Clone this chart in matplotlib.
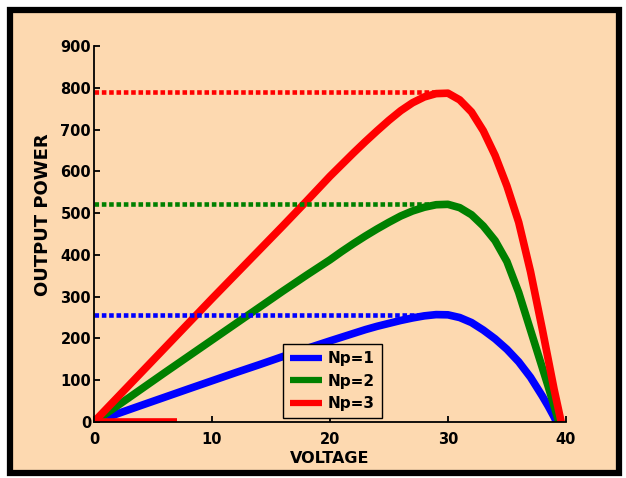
import matplotlib
matplotlib.use("Agg")
import matplotlib.pyplot as plt
from matplotlib.patches import Rectangle

# voltage points (V) shared by the three curves, open-circuit voltage added per curve
voltage = [0, 2, 4, 6, 8, 10, 12, 14, 16, 18, 20, 21, 22, 23, 24, 25, 26, 27,
           28, 29, 30, 31, 32, 33, 34, 35, 36, 37, 38, 38.5, 39]
voc = [39.2, 39.4, 39.6]

p_np1 = [0, 19.8, 39.6, 59.3, 79, 98.5, 118, 137, 156.5, 175.5, 194, 203, 212,
         221, 229, 236, 243, 249, 254, 257, 256.5, 250, 238, 220, 199, 174,
         144, 107, 62, 38, 12]
p_np2 = [0, 39, 78.5, 118, 157, 196, 235, 274, 313, 351, 388, 408, 427,
         445, 462, 478, 493, 505, 514, 520, 521, 513, 496, 469, 434, 384,
         310, 220, 130, 85, 38]
p_np3 = [0, 59, 118, 177, 236, 295, 353, 411, 469, 528, 588, 616, 644,
         671, 697, 722, 745, 764, 778, 786, 787, 771, 742, 697, 638, 565,
         478, 360, 222, 150, 78]

p_max = [257, 522, 789]
v_mp = 29.2
labels = ["Np=1", "Np=2", "Np=3"]
colors = ["#0000ff", "#008000", "#ff0000"]

bg = "#fdd9b0"

fig = plt.figure(figsize=(6.26, 4.78), dpi=100, facecolor="white")
fig.patches.append(Rectangle((10 / 626, 5 / 478), 609 / 626, 463 / 478,
                             transform=fig.transFigure, facecolor=bg,
                             edgecolor="black", linewidth=4.5, zorder=-1))

ax = fig.add_axes([0.150, 0.1172, 0.754, 0.7866])
ax.set_facecolor(bg)

for p, vo, c, lab in zip([p_np1, p_np2, p_np3], voc, colors, labels):
    ax.plot(voltage + [vo], p + [0], color=c, linewidth=5.5, label=lab,
            solid_capstyle="butt", solid_joinstyle="round")

for pm, c in zip(p_max, colors):
    ax.plot([0, v_mp], [pm, pm], color=c, linewidth=3.3,
            linestyle=(0, (1, 0.6)), dash_capstyle="butt")

# short red segment along the bottom axis
ax.plot([0, 7], [0, 0], color="#ff0000", linewidth=5.5, solid_capstyle="butt")

ax.set_xlim(0, 40)
ax.set_ylim(0, 900)
ax.set_xticks(range(0, 41, 10))
ax.set_yticks(range(0, 901, 100))
ax.spines["top"].set_visible(False)
ax.spines["right"].set_visible(False)
ax.spines["left"].set_linewidth(1.3)
ax.spines["bottom"].set_linewidth(1.3)
ax.tick_params(direction="in", length=4, width=1.3, labelsize=10.5, pad=2)
ax.tick_params(axis="x", pad=7)
for t in ax.get_xticklabels() + ax.get_yticklabels():
    t.set_fontweight("bold")

ax.set_xlabel("VOLTAGE", fontsize=11.5, fontweight="bold", labelpad=3)
ax.set_ylabel("OUTPUT POWER", fontsize=13, fontweight="bold")
ax.yaxis.set_label_coords(-0.088, 0.55)

leg = ax.legend(loc="lower left", bbox_to_anchor=(0.40, 0.01), fancybox=False,
                edgecolor="black", facecolor=bg, framealpha=1,
                prop={"weight": "bold", "size": 11}, handlelength=2.1,
                labelspacing=0.5, borderpad=0.45, handletextpad=0.4,
                borderaxespad=0)
leg.get_frame().set_linewidth(1.0)
for line in leg.get_lines():
    line.set_linewidth(4.5)

fig.savefig("out.png", dpi=100, facecolor="white")
